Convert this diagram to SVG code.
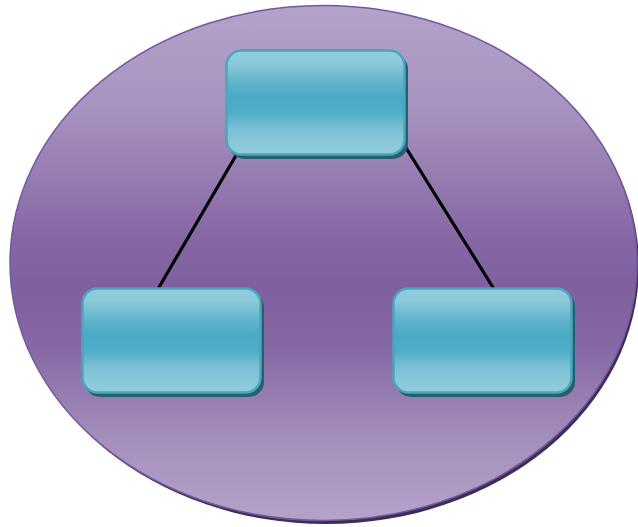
<svg xmlns="http://www.w3.org/2000/svg" width="638" height="527" viewBox="0 0 638 527">
<defs>
<linearGradient id="pg" x1="0" y1="0" x2="0" y2="1">
<stop offset="0" stop-color="#b3a2c9"/>
<stop offset="0.2" stop-color="#a793c0"/>
<stop offset="0.45" stop-color="#8667a4"/>
<stop offset="0.55" stop-color="#7f609f"/>
<stop offset="0.66" stop-color="#8568a4"/>
<stop offset="0.85" stop-color="#a590bd"/>
<stop offset="1" stop-color="#b4a3c9"/>
</linearGradient>
<linearGradient id="bg" x1="0" y1="0" x2="0" y2="1">
<stop offset="0" stop-color="#91ccdb"/>
<stop offset="0.12" stop-color="#8ccad9"/>
<stop offset="0.3" stop-color="#62b3ca"/>
<stop offset="0.45" stop-color="#4aaac6"/>
<stop offset="0.6" stop-color="#4fadc7"/>
<stop offset="0.75" stop-color="#7bc0d4"/>
<stop offset="1" stop-color="#92cedc"/>
</linearGradient>
<filter id="sh" x="-5%" y="-5%" width="110%" height="110%">
<feGaussianBlur stdDeviation="0.6"/>
</filter>
</defs>
<style>
.box{fill:url(#bg);stroke:#4aa5c0;stroke-width:2.5}
.bsh{fill:#285f6c}
.con line{stroke:#000;stroke-width:3.2}
</style>
<g id="background">
<ellipse cx="326" cy="266" rx="313" ry="258" fill="#3d2e55" filter="url(#sh)"/>
<ellipse cx="323.5" cy="263" rx="313.5" ry="257.5" fill="url(#pg)" stroke="#7559a0" stroke-width="1.5"/>
</g>
<g id="connectors" class="con">
<line x1="238" y1="152" x2="158" y2="289"/>
<line x1="403" y1="143" x2="494" y2="289"/>
</g>
<g id="node-top">
<rect class="bsh" x="229" y="54" width="179" height="105" rx="15"/>
<rect class="box" x="226.5" y="50.5" width="178" height="104" rx="15"/>
</g>
<g id="node-left">
<rect class="bsh" x="85" y="292" width="179" height="105" rx="15"/>
<rect class="box" x="82.5" y="288.5" width="178" height="104" rx="15"/>
</g>
<g id="node-right">
<rect class="bsh" x="396" y="292" width="179" height="105" rx="15"/>
<rect class="box" x="393.5" y="288.5" width="178" height="104" rx="15"/>
</g>
</svg>
